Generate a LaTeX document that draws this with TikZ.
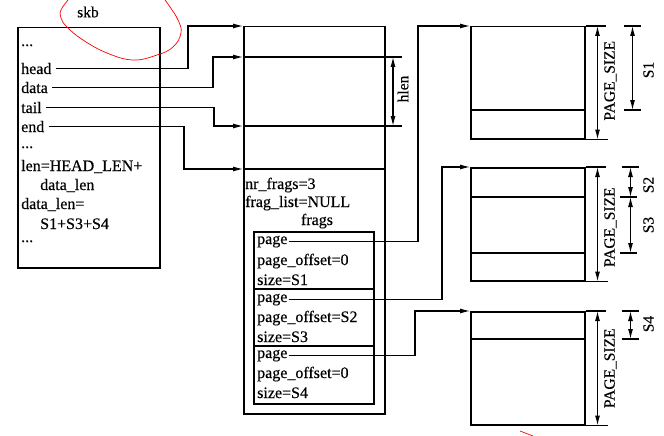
\documentclass[tikz,border=0pt]{standalone}
\usepackage{fontspec}
\setmainfont{Liberation Serif}[FakeBold=0.4]
\usetikzlibrary{arrows.meta,calc}
\begin{document}
\begin{tikzpicture}[x=1pt,y=-1pt,
  box/.style={draw, line width=1.5pt, inner sep=0pt, anchor=north west},
  txt/.style={font=\fontsize{16}{19}\selectfont, inner sep=1pt, anchor=base west},
  lbl/.style={font=\fontsize{15.5}{18}\selectfont, inner sep=0pt, rotate=90},
  arr/.style={line width=1.1pt, -{Latex[length=10pt,width=5pt]}},
  dimarr/.style={line width=1.1pt, {Latex[length=10pt,width=5pt]}-{Latex[length=10pt,width=5pt]}},
  thinline/.style={line width=1.1pt},
  divline/.style={line width=1.3pt}]
\useasboundingbox (0,0) rectangle (664,436);

% boxes
\node[box, minimum width=142pt, minimum height=240pt] (skb) at (17,27) {};
\node[box, minimum width=141pt, minimum height=387pt] (mid) at (243,26) {};
\node[box, minimum width=120pt, minimum height=172pt] (frags) at (253,231) {};
\node[box, minimum width=114pt, minimum height=112pt] (pg1) at (470,26) {};
\node[box, minimum width=114pt, minimum height=113pt] (pg2) at (470,167) {};
\node[box, minimum width=114pt, minimum height=113pt] (pg3) at (470,311) {};

% skb label and red mark
\node[font=\fontsize{15.5}{18}\selectfont, inner sep=0pt] (skblabel) at (88,12) {skb};
\draw[red, line width=0.7pt] plot[smooth, tension=0.7] coordinates {(68,0) (61,10) (61,18) (67,27) (83,40) (107,53) (133,60) (157,55) (173,47) (181,33) (178,20) (170,7) (165,0)};
\draw[red, line width=0.7pt] (520,431) -- (533,436);

% skb texts
\node[txt] (s0) at (20,46) {...};
\node[txt] (head) at (20,74) {head};
\node[txt] (data) at (20,93) {data};
\node[txt] (tail) at (20,113) {tail};
\node[txt] (end) at (20,132) {end};
\node[txt] (s1) at (20,148) {...};
\node[txt] (len) at (20,171) {len=HEAD\_LEN+};
\node[txt] (len2) at (39,190) {data\_len};
\node[txt] (dl) at (20,209) {data\_len=};
\node[txt] (dl2) at (39,229) {S1+S3+S4};
\node[txt] (s2) at (20,242) {...};

% middle box
\coordinate (mA) at ($(mid.north west)+(0,31)$);
\coordinate (mB) at ($(mid.north west)+(0,100)$);
\coordinate (mC) at ($(mid.north west)+(0,143)$);
\draw[thinline] (mA) -- ++(159,0);
\draw[thinline] (mB) -- ++(159,0);
\draw[thinline] (mC) -- (mC -| mid.east);
\draw[dimarr] ($(mA)+(150,0)$) -- ($(mB)+(150,0)$);
\node[lbl] (hlen) at (403,89) {hlen};

\draw[arr] ([xshift=3pt]head.east) -| ($(mid.north west)+(-55,0)$) -- (mid.north west);
\draw[arr] ([xshift=3pt]data.east) -| ($(mA)+(-30,0)$) -- (mA);
\draw[arr] ([xshift=3pt]tail.east) -| ($(mB)+(-29,0)$) -- (mB);
\draw[arr] ([xshift=3pt]end.east) -| ($(mC)+(-59,0)$) -- (mC);

\node[txt] (nr) at (244,189) {nr\_frags=3};
\node[txt] (fl) at (244,207) {frag\_list=NULL};
\node[font=\fontsize{16}{19}\selectfont, inner sep=1pt, anchor=base] (fr) at (317,225) {frags};

% frags entries
\draw[divline] ($(frags.north west)+(0,58)$) -- ($(frags.north east)+(0,58)$);
\draw[divline] ($(frags.north west)+(0,115)$) -- ($(frags.north east)+(0,115)$);
\node[txt] (p1) at (256,244) {page};
\node[txt] (o1) at (256,265) {page\_offset=0};
\node[txt] (z1) at (256,285) {size=S1};
\node[txt] (p2) at (256,302) {page};
\node[txt] (o2) at (256,322) {page\_offset=S2};
\node[txt] (z2) at (256,342) {size=S3};
\node[txt] (p3) at (256,358) {page};
\node[txt] (o3) at (256,378) {page\_offset=0};
\node[txt] (z3) at (256,398) {size=S4};

\draw[arr] (p1.east) -| ($(pg1.north west)+(-52,0)$) -- (pg1.north west);
\draw[arr] (p2.east) -| ($(pg2.north west)+(-28,0)$) -- (pg2.north west);
\draw[arr] (p3.east) -| ($(pg3.north west)+(-55,0)$) -- (pg3.north west);

% page 1
\draw[divline] ($(pg1.north west)+(0,84)$) -- ($(pg1.north east)+(0,84)$);
\draw[thinline] (pg1.north east) -- ++(20,0);
\draw[thinline] (pg1.south east) -- ++(22,0);
\draw[dimarr] ($(pg1.north east)+(12,0)$) -- ($(pg1.south east)+(12,0)$);
\node[lbl] (ps1) at ($(pg1.east)+(25,-2)$) {PAGE\_SIZE};
\draw[thinline] ($(pg1.north east)+(38,0)$) -- ++(17,0);
\draw[thinline] ($(pg1.north east)+(38,84)$) -- ++(17,0);
\draw[dimarr] ($(pg1.north east)+(47,0)$) -- ($(pg1.north east)+(47,84)$);
\node[lbl] (S1) at ($(pg1.north east)+(63,44)$) {S1};

% page 2
\draw[divline] ($(pg2.north west)+(0,30)$) -- ($(pg2.north east)+(0,30)$);
\draw[divline] ($(pg2.north west)+(0,86)$) -- ($(pg2.north east)+(0,86)$);
\draw[thinline] (pg2.north east) -- ++(20,0);
\draw[thinline] (pg2.south east) -- ++(22,0);
\draw[dimarr] ($(pg2.north east)+(12,0)$) -- ($(pg2.south east)+(12,0)$);
\node[lbl] (ps2) at ($(pg2.east)+(25,3)$) {PAGE\_SIZE};
\draw[thinline] ($(pg2.north east)+(36,0)$) -- ++(17,0);
\draw[thinline] ($(pg2.north east)+(34,30)$) -- ++(17,0);
\draw[thinline] ($(pg2.north east)+(34,86)$) -- ++(17,0);
\draw[dimarr] ($(pg2.north east)+(45,0)$) -- ($(pg2.north east)+(45,30)$);
\draw[dimarr] ($(pg2.north east)+(45,30)$) -- ($(pg2.north east)+(45,86)$);
\node[lbl] (S2) at ($(pg2.north east)+(63,18)$) {S2};
\node[lbl] (S3) at ($(pg2.north east)+(63,58)$) {S3};

% page 3
\draw[divline] ($(pg3.north west)+(0,28)$) -- ($(pg3.north east)+(0,28)$);
\draw[thinline] (pg3.north east) -- ++(20,0);
\draw[thinline] (pg3.south east) -- ++(22,0);
\draw[dimarr] ($(pg3.north east)+(12,0)$) -- ($(pg3.south east)+(12,0)$);
\node[lbl] (ps3) at ($(pg3.east)+(25,0)$) {PAGE\_SIZE};
\draw[thinline] ($(pg3.north east)+(36,0)$) -- ++(17,0);
\draw[thinline] ($(pg3.north east)+(36,28)$) -- ++(17,0);
\draw[dimarr] ($(pg3.north east)+(45,0)$) -- ($(pg3.north east)+(45,28)$);
\node[lbl] (S4) at ($(pg3.north east)+(63,13)$) {S4};
\end{tikzpicture}
\end{document}
